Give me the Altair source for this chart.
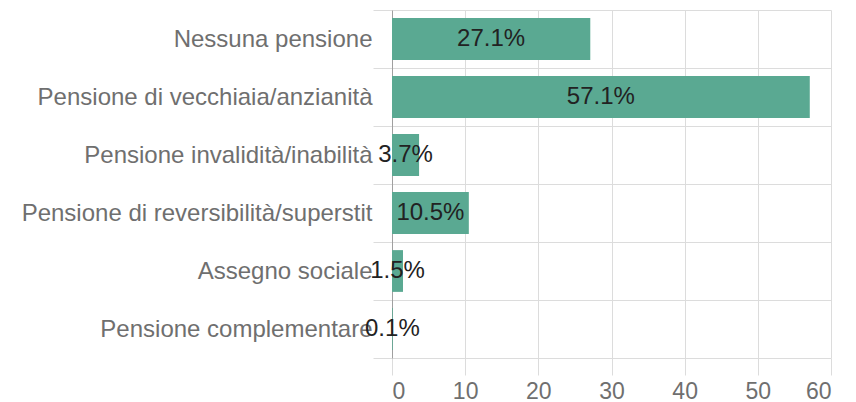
import altair as alt
import pandas as pd

categories = [
    "Nessuna pensione",
    "Pensione di vecchiaia/anzianità",
    "Pensione invalidità/inabilità",
    "Pensione di reversibilità/superstit",
    "Assegno sociale",
    "Pensione complementare",
]
values = [27.1, 57.1, 3.7, 10.5, 1.5, 0.1]
labels = ["27.1%", "57.1%", "3.7%", "10.5%", "1.5%", "0.1%"]
x_ticks = [0, 10, 20, 30, 40, 50, 60]

df = pd.DataFrame({"cat": categories, "val": values, "label": labels})

FONT = "Liberation Sans"
GRID = "#dcdcdc"
LABEL = "#6f6f6f"

y_enc = alt.Y(
    "cat:N",
    sort=categories,
    title=None,
    scale=alt.Scale(paddingInner=0, paddingOuter=0),
    axis=alt.Axis(
        tickBand="extent",
        grid=True,
        gridColor=GRID,
        tickColor=GRID,
        tickSize=19,
        domainColor="#a0a0a0",
        labelFont=FONT,
        labelFontSize=24,
        labelColor=LABEL,
        labelPadding=1,
        labelLimit=0,
    ),
)

x_scale = alt.Scale(domain=[0, 60], nice=False)

bars = alt.Chart(df).mark_bar(height={"band": 0.72}, color="#5aa992").encode(
    x=alt.X(
        "val:Q",
        scale=x_scale,
        title=None,
        axis=alt.Axis(
            values=x_ticks,
            grid=True,
            gridColor=GRID,
            tickColor=GRID,
            tickSize=17,
            domain=False,
            labelFont=FONT,
            labelFontSize=23,
            labelColor=LABEL,
            labelPadding=5,
        ),
    ),
    y=y_enc,
)

text = (
    alt.Chart(df)
    .transform_calculate(mid="datum.val / 2")
    .mark_text(font=FONT, fontSize=24, color="#222222", align="center", baseline="middle")
    .encode(
        x=alt.X("mid:Q", scale=x_scale),
        y=alt.Y("cat:N", sort=categories),
        text="label:N",
    )
)

chart = (
    alt.layer(bars, text)
    .properties(
        width=439,
        height=348,
        autosize=alt.AutoSizeParams(type="none"),
        padding={"left": 384, "top": 2, "right": 9, "bottom": 46},
    )
    .configure_view(stroke=None)
)

chart.save("out.html", embed_options={"renderer": "svg", "actions": False})
